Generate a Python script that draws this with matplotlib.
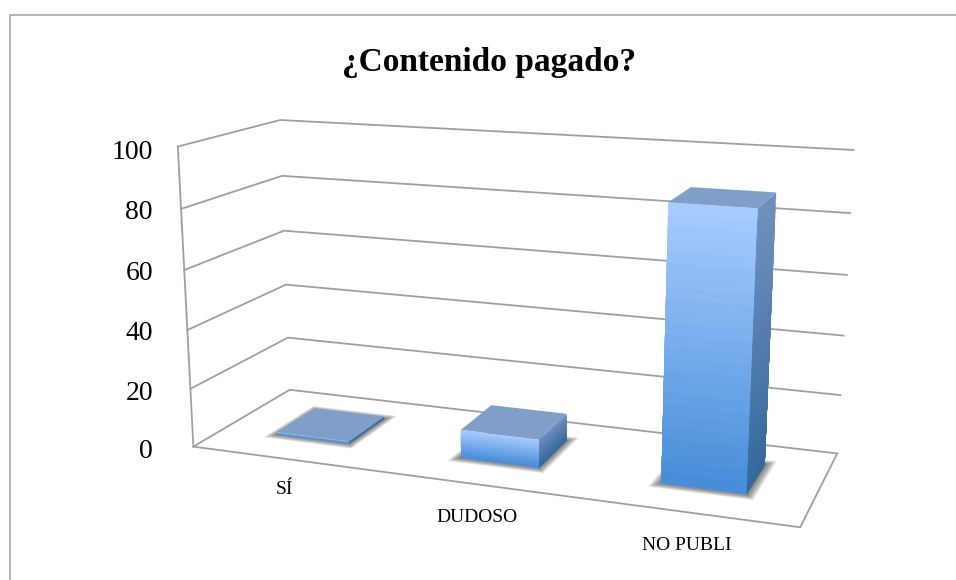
import numpy as np
import matplotlib
matplotlib.use("Agg")
import matplotlib.pyplot as plt
from matplotlib.lines import Line2D
from matplotlib.colors import to_rgb
from mpl_toolkits.mplot3d.art3d import Poly3DCollection

# data
categories = ["SÍ", "DUDOSO", "NO PUBLI"]
values = [0.8, 9.5, 88.5]
z_ticks = [0, 20, 40, 60, 80, 100]

W, H = 956, 580
GRID = "#a0a0a0"

# camera solved from the wall and floor corners
cx, cy, scale = 513.51, 302.78, 3827.28
size = scale * 0.185
left = cx - scale * 0.095
top = cy - scale * 0.09

fig = plt.figure(figsize=(W / 100, H / 100), dpi=100)
ax = fig.add_axes([left / W, 1 - (top + size) / H, size / W, size / H], projection="3d")
ax.set_xlim(0, 3, view_margin=0)
ax.set_ylim(0, 1, view_margin=0)
ax.set_zlim(0, 100, view_margin=0)
ax.view_init(elev=14.188, azim=-69.796, roll=-0.034)
ax.set_proj_type("persp", focal_length=0.4128)
ax.set_box_aspect((2.0111, 0.6726, 1))
ax.set_axis_off()
ax.computed_zorder = False


def mix(a, b, t):
    a, b = np.array(to_rgb(a)), np.array(to_rgb(b))
    return tuple(a + (b - a) * t)


def add_poly(poly, color, zorder, alpha=None):
    coll = Poly3DCollection([poly], facecolors=[color], edgecolors="none", linewidths=0, alpha=alpha, zorder=zorder)
    ax.add_collection3d(coll)


# walls and floor
for z in z_ticks:
    ax.plot([0, 0, 3], [0, 1, 1], [z, z, z], color=GRID, lw=1.3, zorder=1, solid_joinstyle="miter")
ax.plot([0, 0], [0, 0], [0, 100], color=GRID, lw=1.3, zorder=1)
ax.plot([0, 3, 3], [0, 0, 1], [0, 0, 0], color=GRID, lw=1.3, zorder=1, solid_joinstyle="miter")

# bars: soft shadow on the floor, then front, side and top faces
x_pad, y0, y1 = 0.3, 0.31, 0.72
bands = 24
for i, v in enumerate(values):
    x0, x1 = i + x_pad, i + 1 - x_pad

    for g in np.linspace(0.045, 0.0, 12):
        gx, gy = g, g * 1.5
        add_poly([(x0 - gx, y0 - gy, 0), (x1 + gx, y0 - gy, 0), (x1 + gx, y1 + gy, 0), (x0 - gx, y1 + gy, 0)],
                 "#303030", 2, alpha=0.075)

    # each band is painted from the floor up to its top edge, lower bands over higher ones, so no seams show
    edges = np.linspace(0, v, bands + 1)
    for k in range(bands - 1, -1, -1):
        b = edges[k + 1]
        t = (k + 0.5) / bands
        z = 3 + (bands - k) * 0.01
        add_poly([(x0, y0, 0), (x1, y0, 0), (x1, y0, b), (x0, y0, b)], mix("#458cd7", "#a8ccff", t), z)
        add_poly([(x1, y0, 0), (x1, y1, 0), (x1, y1, b), (x1, y0, b)], mix("#34689d", "#7191bd", t), z)
    add_poly([(x0, y0, v), (x1, y0, v), (x1, y1, v), (x0, y1, v)], "#7f9fc9", 4)

# text is placed in picture pixels


def px_text(x, y, s, **kw):
    fig.text(x / W, 1 - y / H, s, ha="center", va="center", family="Liberation Serif", color="black", **kw)


px_text(489, 63, "¿Contenido pagado?", fontsize=24, fontweight="bold")
tick_y = [452, 393, 333, 273, 212, 152]
for t, y in zip(z_ticks, tick_y):
    fig.text(153 / W, 1 - y / H, str(t), ha="right", va="center", family="Liberation Serif", fontsize=20)
for s, (x, y) in zip(categories, [(284.5, 490), (477, 517), (687, 546)]):
    px_text(x, y, s, fontsize=14)

# outer frame of the chart
fig.add_artist(Line2D([9.8 / W, 9.8 / W, 1], [0, 1 - 14.6 / H, 1 - 14.6 / H], color="#a6a6a6", lw=1.2))

fig.savefig("out.png", dpi=100)
